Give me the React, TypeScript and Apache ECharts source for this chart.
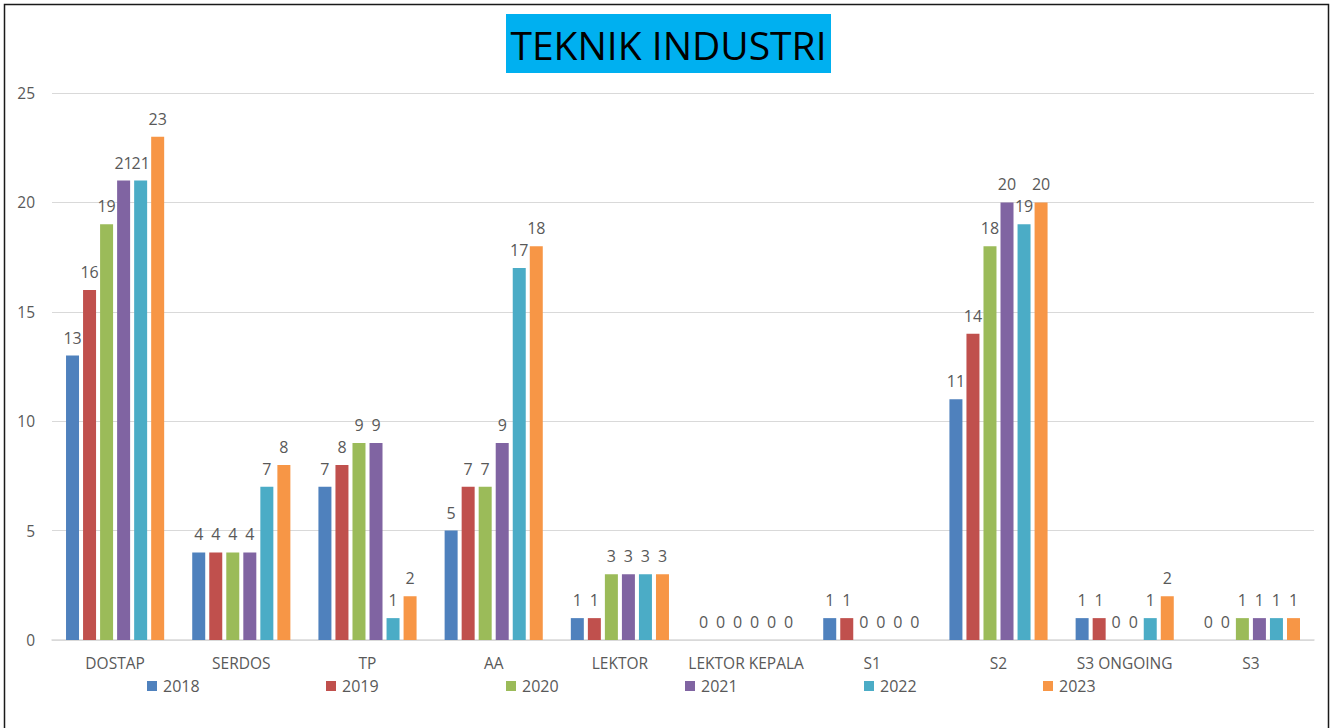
import React, { useEffect, useRef } from "react";
import * as echarts from "echarts";

const categories = ["DOSTAP", "SERDOS", "TP", "AA", "LEKTOR", "LEKTOR KEPALA", "S1", "S2", "S3 ONGOING", "S3"];
const years = ["2018", "2019", "2020", "2021", "2022", "2023"];
const v2018 = [13, 4, 7, 5, 1, 0, 1, 11, 1, 0];
const v2019 = [16, 4, 8, 7, 1, 0, 1, 14, 1, 0];
const v2020 = [19, 4, 9, 7, 3, 0, 0, 18, 0, 1];
const v2021 = [21, 4, 9, 9, 3, 0, 0, 20, 0, 1];
const v2022 = [21, 7, 1, 17, 3, 0, 0, 19, 1, 1];
const v2023 = [23, 8, 2, 18, 3, 0, 0, 20, 2, 1];
const seriesValues = [v2018, v2019, v2020, v2021, v2022, v2023];
const colors = ["#4F81BD", "#C0504D", "#9BBB59", "#8064A2", "#4BACC6", "#F79646"];
const titleText = "TEKNIK INDUSTRI";

const FONT = "'Open Sans', 'Noto Sans', sans-serif";

export default function App() {
  const ref = useRef<HTMLDivElement>(null);
  useEffect(() => {
    document.body.style.margin = "0";
    const chart = echarts.init(ref.current!, null, { renderer: "svg" });
    const legendLefts = [147, 326, 506, 685, 864, 1043];
    chart.setOption({
      animation: false,
      backgroundColor: "#ffffff",
      textStyle: { fontFamily: FONT },
      grid: { left: 52, right: 19, top: 93, bottom: 88, containLabel: false },
      legend: years.map((y, i) => ({
        data: [y],
        left: legendLefts[i],
        top: 678,
        padding: 0,
        itemWidth: 10,
        itemHeight: 10,
        icon: "rect",
        itemGap: 5,
        textStyle: { fontSize: 16, color: "#595959", fontFamily: FONT, padding: [0, 0, 0, 1] },
      })),
      xAxis: {
        type: "category",
        data: categories,
        axisLine: { show: true, lineStyle: { color: "#D9D9D9", width: 1.5 } },
        axisTick: { show: false },
        axisLabel: { color: "#595959", fontSize: 15.5, margin: 15, fontFamily: FONT, interval: 0 },
      },
      yAxis: {
        type: "value",
        min: 0,
        max: 25,
        interval: 5,
        axisLine: { show: false },
        axisTick: { show: false },
        splitLine: { lineStyle: { color: "#D9D9D9", width: 1 } },
        axisLabel: { color: "#595959", fontSize: 15.5, margin: 17, fontFamily: FONT },
      },
      series: years.map((y, i) => ({
        name: y,
        type: "bar",
        data: seriesValues[i],
        barWidth: 13,
        barGap: "31%",
        itemStyle: { color: colors[i] },
        label: {
          show: true,
          position: "top",
          distance: 10,
          color: "#595959",
          fontSize: 16,
          fontFamily: FONT,
        },
      })),
      graphic: [
        {
          type: "rect",
          shape: { x: 4.5, y: 4.5, width: 1324, height: 760 },
          style: { fill: "none", stroke: "#1a1a1a", lineWidth: 1.5 },
          silent: true,
          z: 100,
        },
        {
          type: "rect",
          shape: { x: 506, y: 14, width: 325, height: 59 },
          style: { fill: "#00B0F0" },
          z: 100,
        },
        {
          type: "text",
          x: 668.5,
          y: 44,
          style: {
            text: titleText,
            fill: "#000000",
            font: `39px ${FONT}`,
            align: "center",
            verticalAlign: "middle",
          },
          z: 101,
        },
      ],
    });
    return () => chart.dispose();
  }, []);
  return <div ref={ref} style={{ width: 1333, height: 728 }} />;
}
